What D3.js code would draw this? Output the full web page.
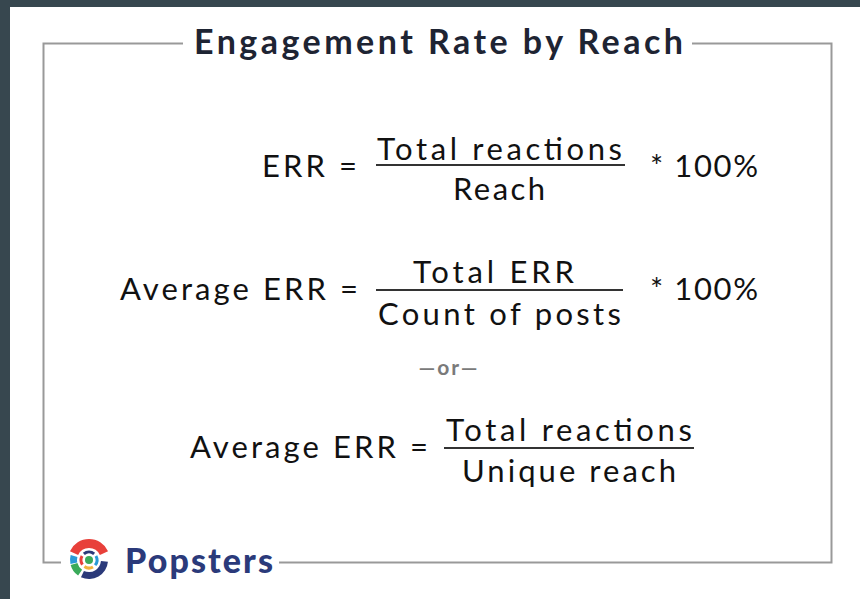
<!DOCTYPE html>
<html><head><meta charset="utf-8">
<script src="https://cdn.jsdelivr.net/npm/d3@7"></script>
<style>html,body{margin:0;padding:0;background:#fff;}svg{display:block;}</style>
</head><body>
<svg id="c" width="860" height="599"></svg>
<script>
// ---- content ----
const titleText = "Engagement Rate by Reach";
const lhsLabels = ["ERR =", "Average ERR =", "Average ERR ="];
const numerators = ["Total reactions", "Total ERR", "Total reactions"];
const denominators = ["Reach", "Count of posts", "Unique reach"];
const multipliers = ["* 100%", "* 100%", ""];
const separatorText = "—or—";
const brandText = "Popsters";

const W = 860, H = 599;
const frame = {x0: 43.5, y0: 43.5, x1: 831.5, y1: 562.5};
const rows = [
  {lhs: [262, 95], num: [377, 245], den: [453, 92], mult: [650, 108], fracX0: 376, fracX1: 625, barY: 165, numBase: 160, denBase: 200, base: 177},
  {lhs: [120, 238], num: [413, 161], den: [378, 243], mult: [650, 108], fracX0: 376, fracX1: 623, barY: 290, numBase: 283, denBase: 325, base: 300},
  {lhs: [190, 238], num: [446, 246], den: [462, 214], mult: null, fracX0: 444, fracX1: 694, barY: 448, numBase: 441, denBase: 482, base: 458}
];
const font = "Lato, 'Open Sans', sans-serif";

const svg = d3.select("#c");
svg.append("rect").attr("x",0).attr("y",0).attr("width",W).attr("height",H).attr("fill","#fff");
svg.append("rect").attr("x",0).attr("y",0).attr("width",W).attr("height",7).attr("fill","#37474f");
svg.append("rect").attr("x",0).attr("y",0).attr("width",10).attr("height",H).attr("fill","#37474f");

// frame with gaps for title and brand
const fr = svg.append("g").attr("stroke", "#999").attr("stroke-width", 2).attr("fill","none");
const framePath = d3.path();
framePath.moveTo(183, frame.y0); framePath.lineTo(frame.x0, frame.y0); framePath.lineTo(frame.x0, frame.y1); framePath.lineTo(61, frame.y1);
framePath.moveTo(692, frame.y0); framePath.lineTo(frame.x1, frame.y0); framePath.lineTo(frame.x1, frame.y1); framePath.lineTo(279, frame.y1);
fr.append("path").attr("d", framePath.toString());

// title
svg.append("text").attr("x", 194).attr("y", 54)
  .attr("font-family", font).attr("font-weight", 700).attr("font-size", 34)
  .attr("fill", "#1e2433").attr("textLength", 489).attr("lengthAdjust","spacing")
  .text(titleText);

// formulas
const g = svg.append("g").attr("font-family", font).attr("font-size", 31).attr("fill", "#111");
function put(txt, box, y) {
  g.append("text").attr("x", box[0]).attr("y", y)
    .attr("textLength", box[1]).attr("lengthAdjust", "spacing").text(txt);
}
rows.forEach((r, i) => {
  put(lhsLabels[i], r.lhs, r.base);
  put(numerators[i], r.num, r.numBase);
  put(denominators[i], r.den, r.denBase);
  g.append("line").attr("x1", r.fracX0).attr("x2", r.fracX1).attr("y1", r.barY).attr("y2", r.barY)
    .attr("stroke", "#333").attr("stroke-width", 2);
  if (r.mult && multipliers[i]) put(multipliers[i], r.mult, r.base);
});

// separator
svg.append("text").attr("x", 449).attr("y", 375).attr("text-anchor", "middle")
  .attr("font-family", font).attr("font-size", 21).attr("font-weight", 700).attr("fill", "#7a7a7a")
  .attr("letter-spacing", 2).text(separatorText);

// brand logo
const logo = svg.append("g").attr("transform", "translate(89,560)");
const arc = d3.arc();
const deg = Math.PI / 180;
const outer = [
  {a0: -65, a1: 65, r0: 12, r1: 21, c: "#e8403a"},
  {a0: 95, a1: 205, r0: 12, r1: 19, c: "#2b3a7a"},
  {a0: 215, a1: 255, r0: 12, r1: 19, c: "#3aaa5a"},
  {a0: 258, a1: 285, r0: 12, r1: 19, c: "#2a9ad6"}
];
outer.forEach(s => logo.append("path").attr("d", arc({innerRadius: s.r0, outerRadius: s.r1, startAngle: s.a0*deg, endAngle: s.a1*deg})).attr("fill", s.c));
const inner = [
  {a0: -40, a1: 40, c: "#2b3a7a"},
  {a0: 60, a1: 130, c: "#2a9ad6"},
  {a0: 150, a1: 215, c: "#f2b33d"},
  {a0: 235, a1: 300, c: "#e8403a"}
];
inner.forEach(s => logo.append("path").attr("d", arc({innerRadius: 6.5, outerRadius: 9.5, startAngle: s.a0*deg, endAngle: s.a1*deg})).attr("fill", s.c));
logo.append("circle").attr("r", 4).attr("fill", "#3aaa5a");

svg.append("text").attr("x", 125).attr("y", 573).attr("font-family", font).attr("font-weight", 900)
  .attr("font-size", 34).attr("fill", "#2b3a7a").attr("textLength", 148).attr("lengthAdjust","spacing")
  .text(brandText);
</script>
</body></html>
